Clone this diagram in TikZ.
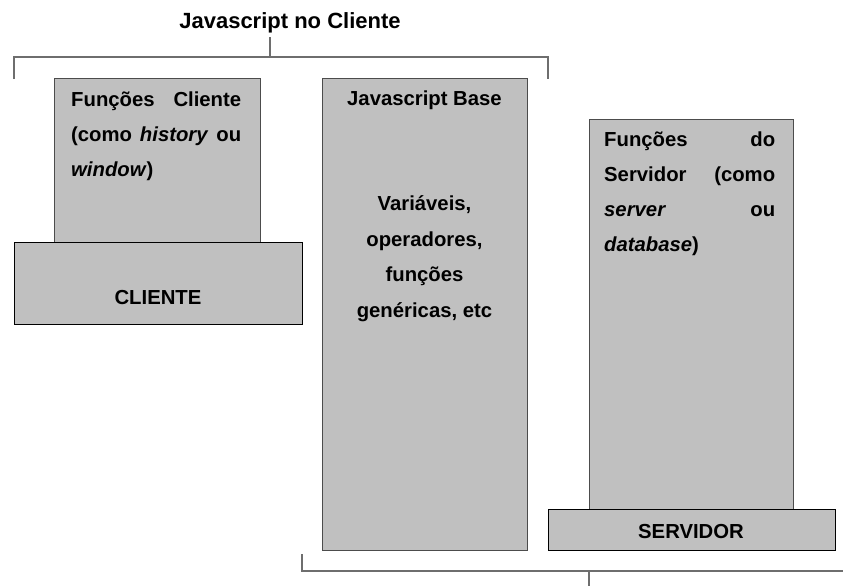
\documentclass[tikz,border=0pt]{standalone}
\usepackage{fontspec}
\setmainfont{Liberation Sans}
\definecolor{boxfill}{HTML}{C0C0C0}
\definecolor{brk}{HTML}{6E6E6E}
\begin{document}
\begin{tikzpicture}[x=1pt,y=-1pt,
  upbox/.style={draw=black!70, fill=boxfill, line width=1pt, inner sep=0pt, anchor=north west},
  basebox/.style={draw=black, fill=boxfill, line width=1pt, inner sep=0pt, anchor=north west},
  brace/.style={draw=brk, line width=1.2pt},
  txt/.style={font=\fontsize{20.3}{24}\selectfont\bfseries, inner sep=0pt, anchor=base west},
  ctxt/.style={txt, anchor=base},
]
\useasboundingbox (0,0) rectangle (843,586);

% title and top bracket
\node[font=\fontsize{22}{26}\selectfont\bfseries, inner sep=0pt, anchor=base] (title) at (290,29) {Javascript no Cliente};
\coordinate (tl) at (14,79);
\coordinate (tlt) at (14,57);
\coordinate (trt) at (548,57);
\coordinate (tr) at (548,79);
\coordinate (tm) at (270,57);
\coordinate (tmt) at (270,37);
\draw[brace] (tl) -- (tlt) -- (trt) -- (tr);
\draw[brace] (tm) -- (tmt);

% client side
\node[upbox, minimum width=206pt, minimum height=164pt] (fc) at (54,78) {};
\node[basebox, minimum width=288pt, minimum height=82pt] (cli) at (14,242) {};
\node[txt] (fc1) at (71,106) {\makebox[170pt][s]{Funções Cliente}};
\node[txt] (fc2) at (71,141) {\makebox[170pt][s]{(como \textit{history} ou}};
\node[txt] (fc3) at (71,176) {\textit{window})};
\node[ctxt] (clit) at (158,304) {CLIENTE};

% javascript base
\node[upbox, minimum width=205pt, minimum height=472pt] (jb) at (322,78) {};
\node[ctxt] (jb1) at (424.5,105) {Javascript Base};
\node[ctxt] (jb2) at (424.5,210.5) {Variáveis,};
\node[ctxt] (jb3) at (424.5,246) {operadores,};
\node[ctxt] (jb4) at (424.5,281.5) {funções};
\node[ctxt] (jb5) at (424.5,317) {genéricas, etc};

% server side
\node[upbox, minimum width=204pt, minimum height=390pt] (fs) at (589,119) {};
\node[basebox, minimum width=287pt, minimum height=41pt] (srv) at (548,509) {};
\node[txt] (fs1) at (604,146) {\makebox[171pt][s]{Funções do}};
\node[txt] (fs2) at (604,181) {\makebox[171pt][s]{Servidor (como}};
\node[txt] (fs3) at (604,216) {\makebox[171pt][s]{\textit{server} ou}};
\node[txt] (fs4) at (604,251) {\textit{database})};
\node[ctxt] (srvt) at (691,538) {SERVIDOR};

% bottom bracket
\coordinate (bl) at (302,554);
\coordinate (blb) at (302,571);
\coordinate (brb) at (843,571);
\coordinate (bm) at (589,571);
\coordinate (bmb) at (589,586);
\draw[brace] (bl) -- (blb) -- (brb);
\draw[brace] (bm) -- (bmb);
\end{tikzpicture}
\end{document}
